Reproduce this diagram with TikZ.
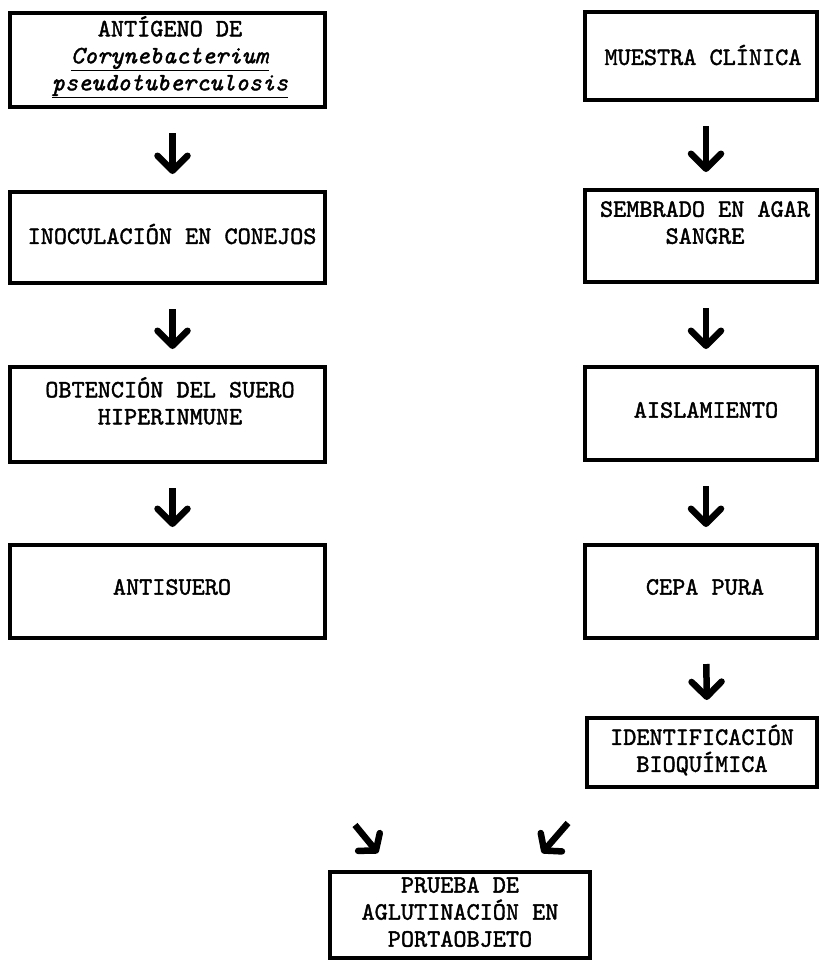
\documentclass[tikz,border=0pt]{standalone}
\usepackage{fontspec}
\newfontfamily\typew[ItalicFont=lmmono10-italic.otf, BoldFont=lmmono10-regular.otf, BoldItalicFont=lmmono10-italic.otf, BoldFeatures={FakeBold=1.6}, BoldItalicFeatures={FakeBold=1.6}]{lmmono10-regular.otf}
\usetikzlibrary{arrows.meta}
\begin{document}
\begin{tikzpicture}[x=1pt,y=-1pt,
  box/.style={draw, line width=4pt, inner sep=0pt},
  txt/.style={font=\typew\bfseries\fontsize{25}{27}\selectfont, align=center, inner sep=0pt},
  vflow/.style={line width=6.5pt, -{Straight Barb[length=15pt,width=30pt,round]}, shorten <=24pt, shorten >=16pt},
  dflow/.style={line width=6.5pt, -{Straight Barb[length=11pt,width=28pt,round]}}]
\useasboundingbox (0,0) rectangle (819,962);
% left column
\node[box, minimum width=315pt, minimum height=94pt] (L1) at (167.5,60) {};
\node[txt] (t1) at (170,57) {ANTÍGENO DE\\\underline{\textit{Corynebacterium}}\\\underline{\textit{pseudotuberculosis}}};
\node[box, minimum width=315pt, minimum height=91pt] (L2) at (167.5,237.5) {};
\node[txt] (t2) at (172,234) {INOCULACIÓN EN CONEJOS};
\node[box, minimum width=315pt, minimum height=95pt] (L3) at (167.5,414.5) {};
\node[txt, anchor=north] (t3) at (170,377) {OBTENCIÓN DEL SUERO\\HIPERINMUNE};
\node[box, minimum width=315pt, minimum height=93pt] (L4) at (167.5,591.5) {};
\node[txt] (t4) at (172,587) {ANTISUERO};
% right column
\node[box, minimum width=232pt, minimum height=88pt] (R1) at (701,56) {};
\node[txt] (r1) at (703,55) {MUESTRA CLÍNICA};
\node[box, minimum width=232pt, minimum height=92pt] (R2) at (701,236) {};
\node[txt, anchor=north] (r2) at (705,201) {SEMBRADO EN AGAR\\SANGRE};
\node[box, minimum width=232pt, minimum height=93pt] (R3) at (701,413.5) {};
\node[txt] (r3) at (706,410) {AISLAMIENTO};
\node[box, minimum width=232pt, minimum height=93pt] (R4) at (701,591.5) {};
\node[txt] (r4) at (705,587) {CEPA PURA};
\node[box, minimum width=230pt, minimum height=69pt] (R5) at (702,752.5) {};
\node[txt] (r5) at (702,750) {IDENTIFICACIÓN\\BIOQUÍMICA};
% bottom
\node[box, minimum width=260pt, minimum height=86pt] (P) at (460,915) {};
\node[txt] (p) at (460,912) {PRUEBA DE\\AGLUTINACIÓN EN\\PORTAOBJETO};
% vertical arrows
\draw[vflow] ([xshift=5pt]L1.south) -- ([xshift=5pt]L2.north);
\draw[vflow] ([xshift=5pt]L2.south) -- ([xshift=5pt]L3.north);
\draw[vflow] ([xshift=5pt]L3.south) -- ([xshift=5pt]L4.north);
\draw[vflow] ([xshift=5pt]R1.south) -- ([xshift=5pt]R2.north);
\draw[vflow] ([xshift=5pt]R2.south) -- ([xshift=5pt]R3.north);
\draw[vflow] ([xshift=5pt]R3.south) -- ([xshift=5pt]R4.north);
\draw[vflow] ([xshift=5pt]R4.south) -- ([xshift=5pt]R5.north);
% diagonal arrows
\coordinate (d1a) at (355,825);
\coordinate (d1b) at (378,853);
\coordinate (d2a) at (568,823);
\coordinate (d2b) at (542,853);
\draw[dflow] (d1a) -- (d1b);
\draw[dflow] (d2a) -- (d2b);
\end{tikzpicture}
\end{document}
